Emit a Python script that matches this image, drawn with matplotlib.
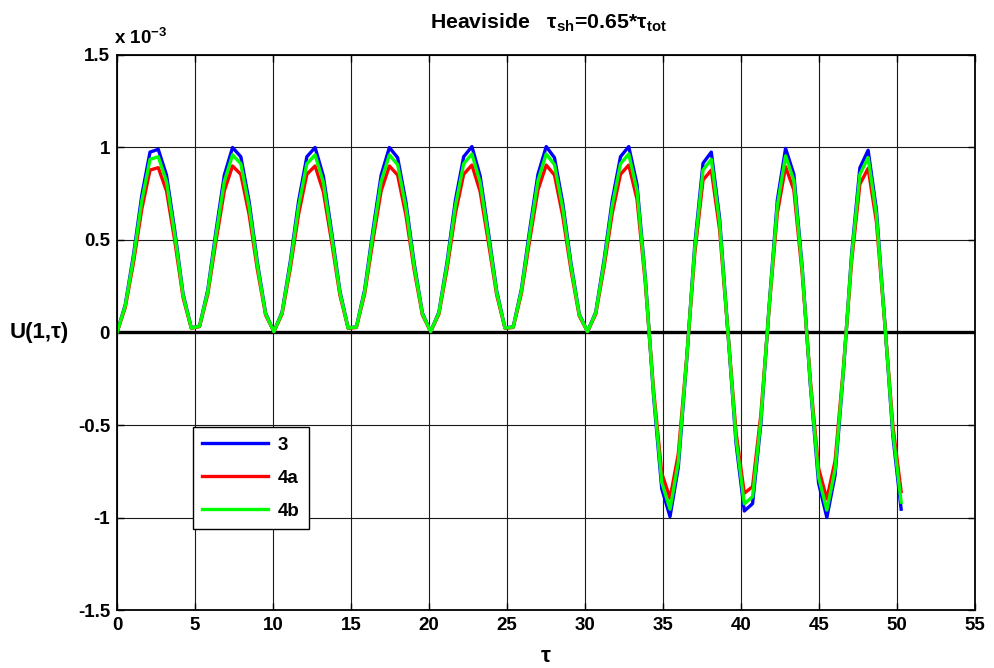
import numpy as np
import matplotlib
matplotlib.use("Agg")
import matplotlib.pyplot as plt

plt.rcParams['font.family'] = ['Liberation Sans', 'DejaVu Sans']
plt.rcParams['font.weight'] = 'bold'
plt.rcParams['mathtext.fontset'] = 'custom'
plt.rcParams['mathtext.rm'] = 'Liberation Sans:bold'
plt.rcParams['mathtext.it'] = 'Liberation Sans:bold'
plt.rcParams['mathtext.bf'] = 'Liberation Sans:bold'

# time samples (tau), step
dt = 0.5291
tau = np.arange(96) * dt

# values in units of 1e-3
u_3 = [0.000, 0.150, 0.42, 0.74, 0.975, 0.99, 0.85, 0.55, 0.21, 0.025,
       0.035, 0.23, 0.55, 0.85, 1.00, 0.95, 0.71, 0.38, 0.105, 0.005,
       0.11, 0.385, 0.71, 0.95, 1.00, 0.845, 0.545, 0.225, 0.025, 0.03,
       0.23, 0.55, 0.85, 1.00, 0.945, 0.705, 0.375, 0.105, 0.005, 0.11,
       0.385, 0.715, 0.95, 1.005, 0.845, 0.54, 0.225, 0.025, 0.03, 0.235,
       0.555, 0.855, 1.005, 0.945, 0.70, 0.375, 0.10, 0.005, 0.11, 0.39,
       0.715, 0.95, 1.005, 0.80, 0.30, -0.34, -0.845, -0.995, -0.73, -0.16,
       0.475, 0.915, 0.975, 0.62, 0.01, -0.60, -0.965, -0.925, -0.495, 0.14,
       0.715, 0.995, 0.855, 0.36, -0.285, -0.815, -1.00, -0.77, -0.215, 0.425,
       0.89, 0.985, 0.665, 0.065, -0.56, -0.955]

u_4a = [0.0, 0.135, 0.378, 0.666, 0.878, 0.891, 0.765, 0.495, 0.189, 0.023,
        0.032, 0.207, 0.495, 0.765, 0.90, 0.855, 0.639, 0.342, 0.095, 0.005,
        0.099, 0.347, 0.639, 0.855, 0.90, 0.761, 0.491, 0.203, 0.023, 0.027,
        0.207, 0.495, 0.765, 0.90, 0.851, 0.635, 0.338, 0.095, 0.005, 0.099,
        0.347, 0.644, 0.855, 0.905, 0.761, 0.486, 0.203, 0.023, 0.027, 0.212,
        0.50, 0.77, 0.905, 0.851, 0.63, 0.338, 0.09, 0.005, 0.099, 0.351,
        0.644, 0.855, 0.905, 0.72, 0.27, -0.306, -0.761, -0.896, -0.657, -0.144,
        0.428, 0.824, 0.878, 0.558, 0.009, -0.54, -0.869, -0.833, -0.446, 0.126,
        0.644, 0.896, 0.77, 0.324, -0.257, -0.734, -0.90, -0.693, -0.194, 0.383,
        0.801, 0.887, 0.599, 0.059, -0.504, -0.86]

u_4b = [0.0, 0.144, 0.403, 0.71, 0.936, 0.95, 0.816, 0.528, 0.202, 0.024,
        0.034, 0.221, 0.528, 0.816, 0.96, 0.912, 0.682, 0.365, 0.101, 0.005,
        0.106, 0.37, 0.682, 0.912, 0.96, 0.811, 0.523, 0.216, 0.024, 0.029,
        0.221, 0.528, 0.816, 0.96, 0.907, 0.677, 0.36, 0.101, 0.005, 0.106,
        0.37, 0.686, 0.912, 0.965, 0.811, 0.518, 0.216, 0.024, 0.029, 0.226,
        0.533, 0.821, 0.965, 0.907, 0.672, 0.36, 0.096, 0.005, 0.106, 0.374,
        0.686, 0.912, 0.965, 0.768, 0.288, -0.326, -0.811, -0.955, -0.701, -0.154,
        0.456, 0.878, 0.936, 0.595, 0.01, -0.576, -0.926, -0.888, -0.475, 0.134,
        0.686, 0.955, 0.821, 0.346, -0.274, -0.782, -0.96, -0.739, -0.206, 0.408,
        0.854, 0.946, 0.638, 0.062, -0.538, -0.917]

series_names = ['3', '4a', '4b']
series_colors = ['#0000ff', '#ff0000', '#00ff00']

xticks = [0, 5, 10, 15, 20, 25, 30, 35, 40, 45, 50, 55]
yticks = [-1.5, -1, -0.5, 0, 0.5, 1, 1.5]
ytick_labels = ['-1.5', '-1', '-0.5', '0', '0.5', '1', '1.5']

TICK_FS = 13.5
TITLE_FS = 15.3
LAB_FS = 16

fig = plt.figure(figsize=(9.94, 6.68), dpi=100)
ax = fig.add_axes([0.1177, 0.0868, 0.8632, 0.8309])

ax.axhline(0, color='black', lw=2.4, zorder=1.5)
for vals, name, col in zip([u_3, u_4a, u_4b], series_names, series_colors):
    ax.plot(tau, vals, color=col, lw=2.4, label=name, zorder=2)

ax.set_xlim(0, 55)
ax.set_ylim(-1.5, 1.5)
ax.set_xticks(xticks)
ax.set_xticklabels([str(v) for v in xticks])
ax.set_yticks(yticks)
ax.set_yticklabels(ytick_labels)
ax.grid(True, color='0.1', lw=0.8, ls='-')
ax.set_axisbelow(True)
ax.tick_params(direction='in', length=5, width=1, labelsize=TICK_FS, pad=5,
               top=True, right=True)
for lab in ax.get_xticklabels() + ax.get_yticklabels():
    lab.set_fontweight('bold')
for s in ax.spines.values():
    s.set_linewidth(1.3)

ax.set_title('Heaviside   \u03c4$_{sh}$=0.65*\u03c4$_{tot}$', fontsize=TITLE_FS,
             fontweight='bold', pad=19, x=0.503)
ax.set_xlabel('\u03c4', fontsize=LAB_FS, fontweight='bold', labelpad=9)
ax.set_ylabel('U(1,\u03c4)', fontsize=LAB_FS, fontweight='bold', rotation=0,
              labelpad=28, va='center')
ax.text(-0.003, 1.012, 'x 10$^{-3}$', transform=ax.transAxes, fontsize=TICK_FS,
        fontweight='bold', ha='left', va='bottom')

leg = ax.legend(loc='upper left', bbox_to_anchor=(0.0886, 0.3297),
                borderaxespad=0,
                fontsize=TICK_FS, handlelength=3.5, frameon=True, fancybox=False,
                edgecolor='black', framealpha=1, borderpad=0.5,
                labelspacing=0.85, handletextpad=0.5)
leg.get_frame().set_linewidth(1.0)
for t in leg.get_texts():
    t.set_fontweight('bold')

fig.savefig('out.png', dpi=100)
